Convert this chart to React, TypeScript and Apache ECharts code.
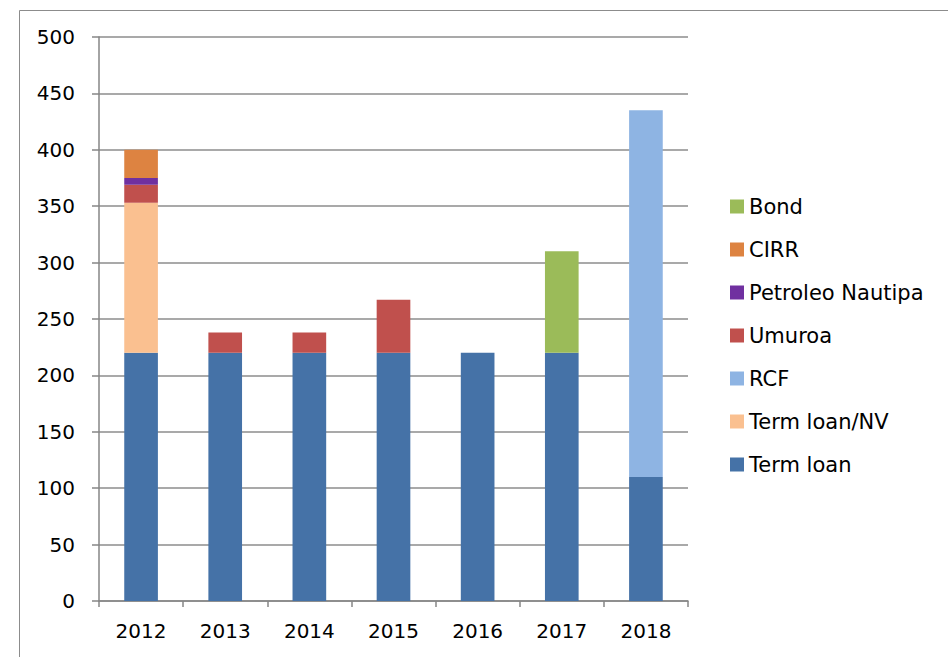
import React, { useEffect, useRef } from "react";
import * as echarts from "echarts";

const years = ["2012", "2013", "2014", "2015", "2016", "2017", "2018"];
const termLoan = [220, 220, 220, 220, 220, 220, 110];
const termLoanNV = [133, 0, 0, 0, 0, 0, 0];
const rcf = [0, 0, 0, 0, 0, 0, 325];
const umuroa = [16, 18, 18, 47, 0, 0, 0];
const petroleo = [6, 0, 0, 0, 0, 0, 0];
const cirr = [25, 0, 0, 0, 0, 0, 0];
const bond = [0, 0, 0, 0, 0, 90, 0];
const legendOrder = ["Bond", "CIRR", "Petroleo Nautipa", "Umuroa", "RCF", "Term loan/NV", "Term loan"];

const FONT = "DejaVu Sans";

export default function App() {
  const ref = useRef<HTMLDivElement>(null);
  useEffect(() => {
    if (!ref.current) return;
    const chart = echarts.init(ref.current, undefined, { renderer: "svg" });
    const mk = (name: string, data: number[], color: string) => ({
      name,
      type: "bar",
      stack: "total",
      data,
      barCategoryGap: "60%",
      itemStyle: { color },
    });
    chart.setOption({
      animation: false,
      backgroundColor: "#ffffff",
      textStyle: { fontFamily: FONT },
      graphic: [
        {
          type: "rect",
          shape: { x: 19.5, y: 10.5, width: 1000, height: 1000 },
          style: { fill: "none", stroke: "#8c8c8c", lineWidth: 1 },
          silent: true,
        },
      ],
      grid: { left: 99, top: 37, right: 260, bottom: 56, containLabel: false },
      legend: {
        orient: "vertical",
        left: 725,
        top: 191,
        itemWidth: 14,
        itemHeight: 14,
        itemGap: 22,
        icon: "rect",
        data: legendOrder,
        textStyle: { fontFamily: FONT, fontSize: 21, color: "#000", lineHeight: 21 },
      },
      xAxis: {
        type: "category",
        data: years,
        boundaryGap: true,
        axisLine: { lineStyle: { color: "#868686", width: 1.5 } },
        axisTick: { show: true, length: 6, alignWithLabel: false, lineStyle: { color: "#868686", width: 1.5 } },
        axisLabel: { fontFamily: FONT, fontSize: 20, color: "#000", margin: 20 },
        splitLine: { show: false },
      },
      yAxis: {
        type: "value",
        min: 0,
        max: 500,
        interval: 50,
        axisLine: { show: true, lineStyle: { color: "#868686", width: 1.5 } },
        axisTick: { show: true, length: 7, lineStyle: { color: "#868686", width: 1.5 } },
        axisLabel: { fontFamily: FONT, fontSize: 20, color: "#000", margin: 24 },
        splitLine: { show: true, lineStyle: { color: "#8c8c8c", width: 1.5 } },
      },
      series: [
        mk("Term loan", termLoan, "#4572A7"),
        mk("Term loan/NV", termLoanNV, "#FAC090"),
        mk("RCF", rcf, "#8EB4E3"),
        mk("Umuroa", umuroa, "#C0504D"),
        mk("Petroleo Nautipa", petroleo, "#7030A0"),
        mk("CIRR", cirr, "#DD8341"),
        mk("Bond", bond, "#9BBB59"),
      ],
    });
    return () => chart.dispose();
  }, []);
  return (
    <div
      ref={ref}
      style={{ position: "fixed", left: 0, top: 0, width: 948, height: 657, background: "#fff" }}
    />
  );
}
